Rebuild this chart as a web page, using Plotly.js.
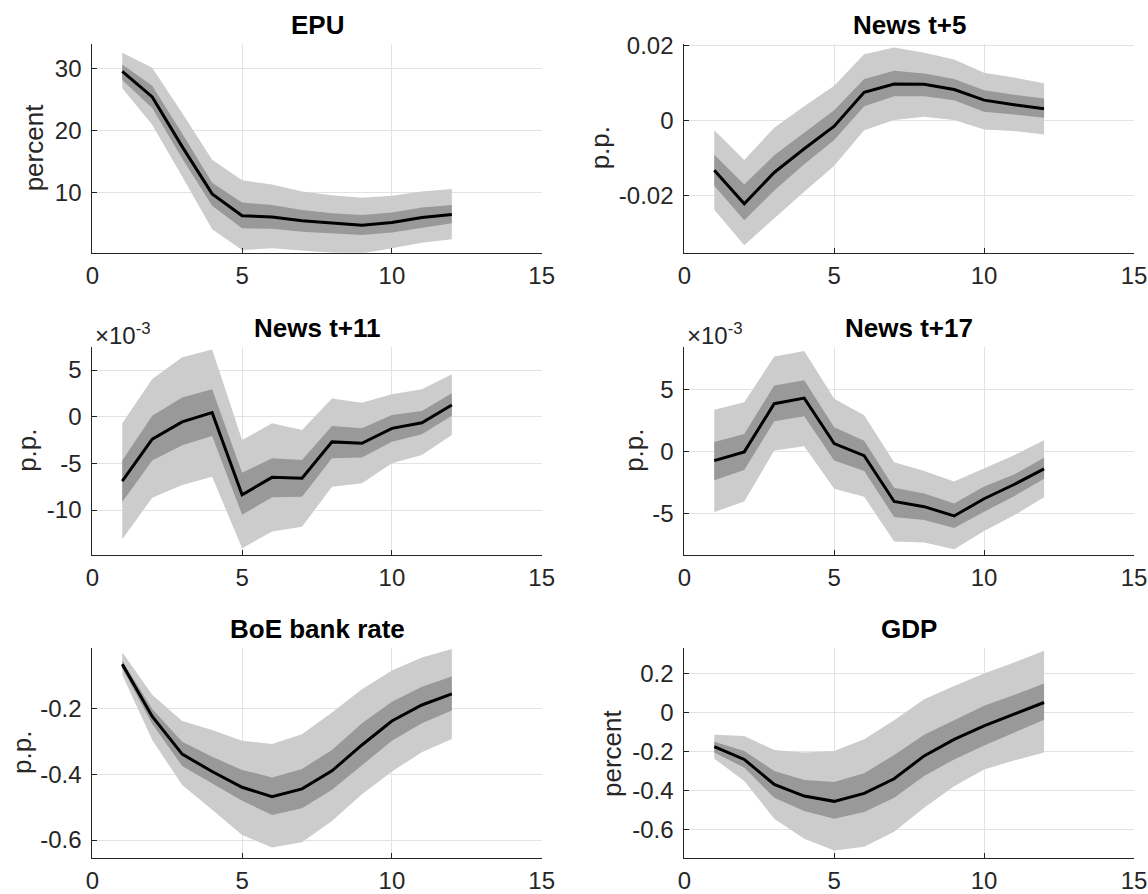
<!DOCTYPE html>
<html>
<head>
<meta charset="utf-8">
<script src="https://cdn.plot.ly/plotly-3.0.1.min.js"></script>
<style>html,body{margin:0;padding:0;background:#fff;}#chart{width:1148px;height:894px;}</style>
</head>
<body>
<div id="chart"></div>
<script>
// Horizons
const horizon = [1,2,3,4,5,6,7,8,9,10,11,12];

// EPU (percent)
const epuMed = [29.5,25.4,17.4,9.8,6.3,6.1,5.5,5.1,4.75,5.2,6.0,6.5];
const epuIn68Up = [30.6,27.2,19.5,11.6,8.4,8.0,7.2,6.7,6.4,6.8,7.6,8.0];
const epuIn68Lo = [28.1,23.6,15.5,7.9,4.3,4.2,3.7,3.5,3.2,3.6,4.4,5.1];
const epuOut90Up = [32.5,30.1,22.8,15.3,12.0,11.3,10.2,9.6,9.2,9.5,10.2,10.6];
const epuOut90Lo = [26.8,20.9,12.6,4.1,0.8,1.05,0.7,0.35,0.25,1.05,1.96,2.5];

// News t+5 (p.p.)
const n5Med = [-0.0132,-0.0221,-0.0138,-0.0075,-0.0015,0.0075,0.0097,0.0096,0.0082,0.0054,0.0042,0.0031];
const n5In68Up = [-0.0091,-0.0170,-0.0092,-0.0032,0.0027,0.0110,0.0132,0.0125,0.0110,0.0080,0.0068,0.0058];
const n5In68Lo = [-0.0173,-0.0265,-0.0186,-0.0116,-0.0052,0.0038,0.0064,0.0064,0.0054,0.0023,0.0016,0.0007];
const n5Out90Up = [-0.0026,-0.0105,-0.0019,0.0038,0.0092,0.0176,0.0194,0.0180,0.0162,0.0127,0.0114,0.0099];
const n5Out90Lo = [-0.0237,-0.0331,-0.0259,-0.0189,-0.0120,-0.0026,0.0001,0.0010,0.0001,-0.0024,-0.0028,-0.0037];

// News t+11 (p.p., x10^-3)
const n11Med = [-6.9,-2.4,-0.55,0.43,-8.36,-6.5,-6.6,-2.7,-2.85,-1.25,-0.65,1.25];
const n11In68Up = [-4.7,0.1,2.07,2.93,-6.0,-4.46,-4.64,-1.0,-1.25,0.18,0.6,2.5];
const n11In68Lo = [-9.14,-4.7,-3.07,-2.07,-10.5,-8.64,-8.57,-4.46,-4.36,-2.68,-1.89,0.1];
const n11Out90Up = [-0.71,4.04,6.36,7.2,-2.5,-0.71,-1.43,1.96,1.5,2.4,2.93,4.54];
const n11Out90Lo = [-13.14,-8.68,-7.32,-6.43,-14.1,-12.3,-11.8,-7.5,-7.14,-5.0,-4.1,-1.96];

// News t+17 (p.p., x10^-3)
const n17Med = [-0.7,0.0,3.89,4.34,0.67,-0.3,-4.0,-4.42,-5.17,-3.78,-2.63,-1.37];
const n17In68Up = [0.8,1.45,5.36,5.79,1.98,0.91,-2.9,-3.35,-4.16,-2.8,-1.82,-0.48];
const n17In68Lo = [-2.28,-1.47,2.47,2.87,-0.7,-1.55,-5.25,-5.5,-6.14,-4.83,-3.57,-2.17];
const n17Out90Up = [3.4,4.0,7.69,8.15,4.29,2.95,-0.83,-1.55,-2.39,-1.31,-0.27,0.94];
const n17Out90Lo = [-4.85,-4.0,0.11,0.46,-2.98,-3.62,-7.24,-7.32,-7.86,-6.38,-5.12,-3.65];

// BoE bank rate (p.p.)
const boeMed = [-0.064,-0.223,-0.338,-0.391,-0.439,-0.468,-0.444,-0.389,-0.31,-0.237,-0.188,-0.154];
const boeIn68Up = [-0.053,-0.2,-0.3,-0.346,-0.386,-0.409,-0.383,-0.325,-0.244,-0.178,-0.132,-0.101];
const boeIn68Lo = [-0.076,-0.246,-0.374,-0.427,-0.48,-0.524,-0.503,-0.447,-0.371,-0.297,-0.244,-0.205];
const boeOut90Up = [-0.027,-0.157,-0.237,-0.264,-0.297,-0.307,-0.277,-0.211,-0.14,-0.083,-0.043,-0.017];
const boeOut90Lo = [-0.096,-0.295,-0.432,-0.508,-0.585,-0.623,-0.607,-0.542,-0.46,-0.391,-0.332,-0.292];

// GDP (percent)
const gdpMed = [-0.176,-0.242,-0.37,-0.43,-0.457,-0.416,-0.341,-0.224,-0.139,-0.07,-0.01,0.05];
const gdpIn68Up = [-0.151,-0.199,-0.301,-0.348,-0.358,-0.313,-0.219,-0.116,-0.041,0.033,0.089,0.147];
const gdpIn68Lo = [-0.207,-0.284,-0.439,-0.507,-0.546,-0.512,-0.439,-0.327,-0.242,-0.17,-0.104,-0.039];
const gdpOut90Up = [-0.116,-0.122,-0.194,-0.207,-0.199,-0.139,-0.041,0.067,0.135,0.199,0.255,0.315];
const gdpOut90Lo = [-0.238,-0.353,-0.546,-0.649,-0.709,-0.69,-0.613,-0.49,-0.379,-0.293,-0.247,-0.207];

// Titles, labels, ticks
const panelTitles = ["EPU","News t+5","News t+11","News t+17","BoE bank rate","GDP"];
const yLabels = ["percent","p.p.","p.p.","p.p.","p.p.","percent"];
const xTickVals = [0,5,10,15];
const xTickText = ["0","5","10","15"];
const yTickVals = [[10,20,30],[-0.02,0,0.02],[-10,-5,0,5],[-5,0,5],[-0.6,-0.4,-0.2],[-0.6,-0.4,-0.2,0,0.2]];
const yTickText = [["10","20","30"],["-0.02","0","0.02"],["-10","-5","0","5"],["-5","0","5"],["-0.6","-0.4","-0.2"],["-0.6","-0.4","-0.2","0","0.2"]];
const yRanges = [[0.35,33.9],[-0.0351,0.0203],[-14.82,7.5],[-8.32,8.49],[-0.654,-0.015],[-0.746,0.328]];

const panels = [
  [epuMed,epuIn68Up,epuIn68Lo,epuOut90Up,epuOut90Lo],
  [n5Med,n5In68Up,n5In68Lo,n5Out90Up,n5Out90Lo],
  [n11Med,n11In68Up,n11In68Lo,n11Out90Up,n11Out90Lo],
  [n17Med,n17In68Up,n17In68Lo,n17Out90Up,n17Out90Lo],
  [boeMed,boeIn68Up,boeIn68Lo,boeOut90Up,boeOut90Lo],
  [gdpMed,gdpIn68Up,gdpIn68Lo,gdpOut90Up,gdpOut90Lo]
];

const W = 1148, H = 894;
// pixel boxes
const colX = [[92.3,541.7],[684.3,1134]];
const rowY = [[44,252.7],[346.7,555.0],[648.3,857.7]];
const ylabX = [[34,27,22],[600,634,612]];

const FONT = "'Liberation Sans', Arial, Helvetica, sans-serif";
const AX = '#262626';
const traces = [];
const layout = {
  width: W, height: H,
  margin: {l:0,r:0,t:0,b:0},
  paper_bgcolor: '#ffffff', plot_bgcolor: '#ffffff',
  showlegend: false,
  font: {family: FONT, color: AX, size: 24},
  annotations: []
};

panels.forEach((p, i) => {
  const row = Math.floor(i/2), col = i%2;
  const k = i+1;
  const xa = 'x' + (k===1?'':k), ya = 'y' + (k===1?'':k);
  const [med, iu, il, ou, ol] = p;
  const xPoly = horizon.concat(horizon.slice().reverse());
  traces.push({x: xPoly, y: ou.concat(ol.slice().reverse()), xaxis: xa, yaxis: ya,
    type:'scatter', mode:'lines', fill:'toself', fillcolor:'#cccccc', line:{width:0, color:'#cccccc'}, hoverinfo:'skip'});
  traces.push({x: xPoly, y: iu.concat(il.slice().reverse()), xaxis: xa, yaxis: ya,
    type:'scatter', mode:'lines', fill:'toself', fillcolor:'#999999', line:{width:0, color:'#999999'}, hoverinfo:'skip'});
  traces.push({x: horizon, y: med, xaxis: xa, yaxis: ya,
    type:'scatter', mode:'lines', line:{width:3, color:'#000000'}});

  const [xl, xr] = colX[col];
  const [yt, yb] = rowY[row];
  const xKey = 'xaxis' + (k===1?'':k), yKey = 'yaxis' + (k===1?'':k);
  layout[xKey] = {
    domain: [xl/W, xr/W], anchor: ya, range: [0,15],
    tickvals: xTickVals, ticktext: xTickText,
    showline: true, linecolor: AX, linewidth: 1, mirror: false,
    ticks: 'inside', ticklen: 5, tickcolor: AX, tickwidth: 1,
    showgrid: true, gridcolor: '#e3e3e3', gridwidth: 1, zeroline: false,
    tickfont: {family: FONT, size: 24, color: AX}, ticklabelstandoff: 1,
    ticklabeloverflow: 'allow',
    fixedrange: true
  };
  layout[yKey] = {
    domain: [1 - yb/H, 1 - yt/H], anchor: xa, range: yRanges[i],
    tickvals: yTickVals[i], ticktext: yTickText[i],
    showline: true, linecolor: AX, linewidth: 1, mirror: false,
    ticks: 'inside', ticklen: 5, tickcolor: AX, tickwidth: 1,
    showgrid: true, gridcolor: '#e3e3e3', gridwidth: 1, zeroline: false,
    tickfont: {family: FONT, size: 24, color: AX}, ticklabelstandoff: 5,
    ticklabeloverflow: 'allow',
    fixedrange: true
  };
  layout.annotations.push({
    xref:'paper', yref:'paper', x: (xl+xr)/2/W, y: 1 - (yt-19)/H,
    text: '<b>' + panelTitles[i] + '</b>', showarrow:false,
    font:{family: FONT, size: 26, color:'#000000'}, xanchor:'center', yanchor:'middle'
  });
  layout.annotations.push({
    xref:'paper', yref:'paper', x: ylabX[col][row]/W, y: 1 - ((yt+yb)/2)/H,
    text: yLabels[i], textangle: -90, showarrow:false,
    font:{family: FONT, size: 26, color: AX}, xanchor:'center', yanchor:'middle'
  });
  if (i===2 || i===3) {
    layout.annotations.push({
      xref:'paper', yref:'paper', x: (xl+1)/W, y: 1 - (yt-13)/H,
      text: '\u00d710<sup>-3</sup>', showarrow:false,
      font:{family: FONT, size: 24, color: AX}, xanchor:'left', yanchor:'middle'
    });
  }
});

Plotly.newPlot('chart', traces, layout, {staticPlot: true, displayModeBar: false});
</script>
</body>
</html>
